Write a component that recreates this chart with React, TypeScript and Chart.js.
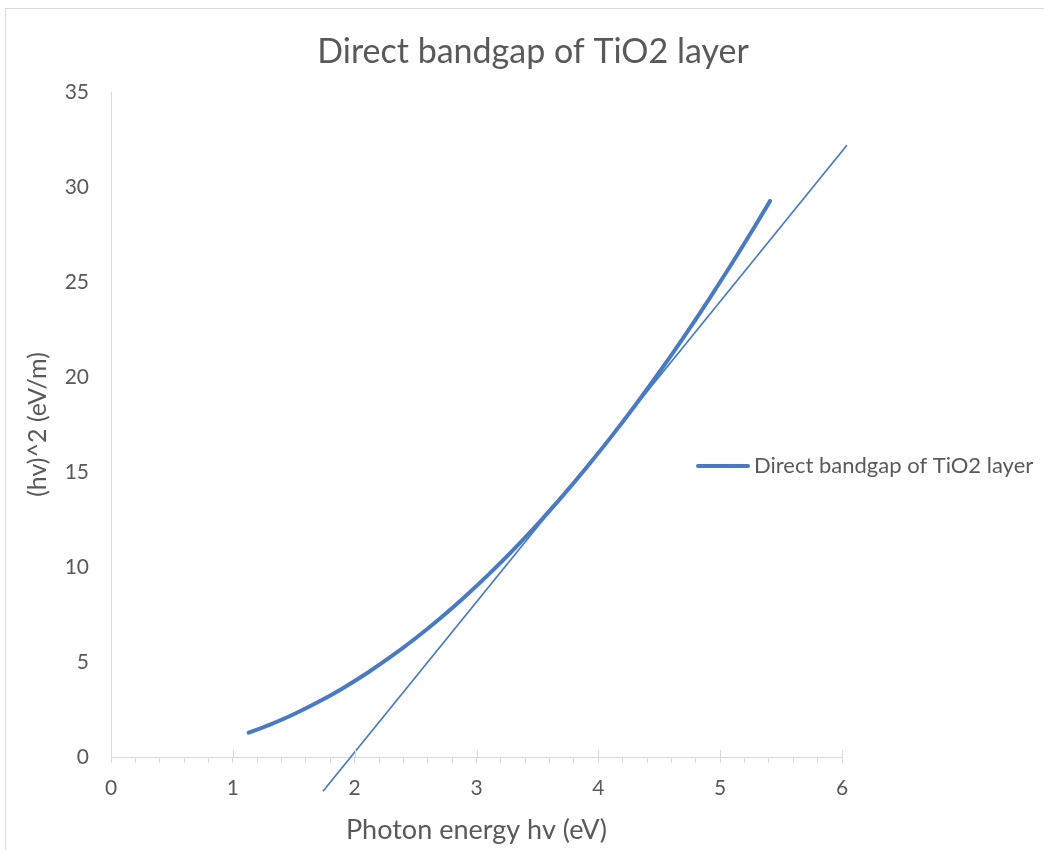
import React, { useEffect, useRef } from "react";
import { Chart, registerables } from "chart.js";

Chart.register(...registerables);

const chartTitle = "Direct bandgap of TiO2 layer";
const seriesName = "Direct bandgap of TiO2 layer";
const xAxisTitle = "Photon energy hv (eV)";
const yAxisTitle = "(hv)^2 (eV/m)";

const curveX = [1.13, 1.3, 1.5, 1.7, 1.9, 2.1, 2.3, 2.5, 2.7, 2.9, 3.1, 3.3, 3.5, 3.7, 3.9, 4.1, 4.3, 4.5, 4.7, 4.9, 5.1, 5.3, 5.41];
const curveY = [1.28, 1.69, 2.25, 2.89, 3.61, 4.41, 5.29, 6.25, 7.29, 8.41, 9.61, 10.89, 12.25, 13.69, 15.21, 16.81, 18.49, 20.25, 22.09, 24.01, 26.01, 28.09, 29.27];

const tangentX = [1.74, 6.04];
const tangentY = [-1.8, 32.2];

const X_MIN = 0, X_MAX = 6, X_MINOR_STEP = 0.2;
const Y_MIN = 0, Y_MAX = 35, Y_STEP = 5;

const BLUE = "#4A7BC2";
const TEXT = "#595959";
const AXIS = "#d9d9d9";
const FONT = "Lato, Carlito, Calibri, sans-serif";

const overlayPlugin = {
  id: "overlay",
  afterDraw(chart: any) {
    const { ctx } = chart;
    const xs = chart.scales.x;
    const ys = chart.scales.y;
    ctx.save();
    ctx.strokeStyle = AXIS;
    ctx.lineWidth = 1;
    const y0 = ys.getPixelForValue(0);
    for (let v = X_MIN; v <= X_MAX; v += 1) {
      const px = Math.round(xs.getPixelForValue(v)) + 0.5;
      ctx.beginPath();
      ctx.moveTo(px, y0 - 7);
      ctx.lineTo(px, y0);
      ctx.stroke();
    }
    ctx.fillStyle = TEXT;
    ctx.font = `34px ${FONT}`;
    ctx.textAlign = "center";
    ctx.textBaseline = "middle";
    ctx.fillText(chartTitle, 533, 52);
    ctx.strokeStyle = BLUE;
    ctx.lineWidth = 4;
    ctx.lineCap = "round";
    ctx.beginPath();
    ctx.moveTo(698, 466);
    ctx.lineTo(748, 466);
    ctx.stroke();
    ctx.font = `22px ${FONT}`;
    ctx.textAlign = "left";
    ctx.fillText(seriesName, 754, 466);
    ctx.restore();
  },
};

export default function App() {
  const ref = useRef<HTMLCanvasElement | null>(null);
  useEffect(() => {
    if (!ref.current) return;
    const chart = new Chart(ref.current, {
      type: "line",
      data: {
        datasets: [
          {
            label: seriesName,
            data: curveX.map((x, i) => ({ x, y: curveY[i] })),
            borderColor: BLUE,
            backgroundColor: BLUE,
            borderWidth: 4,
            pointRadius: 0,
            cubicInterpolationMode: "monotone",
            borderCapStyle: "round",
          },
          {
            label: "tangent",
            data: tangentX.map((x, i) => ({ x, y: tangentY[i] })),
            borderColor: BLUE,
            borderWidth: 1.75,
            pointRadius: 0,
            clip: false,
          } as any,
        ],
      },
      options: {
        responsive: false,
        animation: false,
        devicePixelRatio: 1,
        layout: { padding: { left: 0, right: 202, top: 92, bottom: 0 } },
        plugins: {
          legend: { display: false },
          title: { display: false },
          tooltip: { enabled: false },
        },
        scales: {
          x: {
            type: "linear",
            min: X_MIN,
            max: X_MAX,
            afterFit(s: any) {
              s.height = 93;
            },
            afterBuildTicks(s: any) {
              const t = [];
              for (let i = 0; i <= Math.round((X_MAX - X_MIN) / X_MINOR_STEP); i++) {
                t.push({ value: +(X_MIN + i * X_MINOR_STEP).toFixed(2) });
              }
              s.ticks = t;
            },
            ticks: {
              autoSkip: false,
              maxRotation: 0,
              padding: 13,
              color: TEXT,
              font: { family: FONT, size: 21 },
              callback: (v: any) => (Math.abs(v - Math.round(v)) < 1e-6 ? String(Math.round(v)) : ""),
            },
            grid: {
              display: true,
              drawOnChartArea: false,
              drawTicks: true,
              tickLength: 6,
              color: AXIS,
            },
            border: { display: true, color: AXIS, width: 1 },
            title: {
              display: true,
              text: xAxisTitle,
              color: TEXT,
              font: { family: FONT, size: 27 },
              padding: { top: 0, bottom: 4 },
            },
          },
          y: {
            type: "linear",
            min: Y_MIN,
            max: Y_MAX,
            afterFit(s: any) {
              s.width = 111;
            },
            ticks: {
              stepSize: Y_STEP,
              padding: 14,
              color: TEXT,
              font: { family: FONT, size: 21 },
            },
            grid: { display: false },
            border: { display: true, color: AXIS, width: 1 },
            title: {
              display: true,
              text: yAxisTitle,
              color: TEXT,
              font: { family: FONT, size: 25 },
              padding: { top: 23, bottom: 0 },
            },
          },
        },
      },
      plugins: [overlayPlugin],
    });
    return () => chart.destroy();
  }, []);

  return (
    <div style={{ position: "fixed", inset: 0, overflow: "hidden", background: "#fff" }}>
      <div
        style={{
          position: "absolute",
          left: 5,
          top: 8,
          width: 1060,
          height: 900,
          border: `1px solid ${AXIS}`,
          boxSizing: "border-box",
        }}
      />
      <canvas
        ref={ref}
        width={1044}
        height={850}
        style={{ position: "absolute", left: 0, top: 0, width: 1044, height: 850 }}
      />
    </div>
  );
}
